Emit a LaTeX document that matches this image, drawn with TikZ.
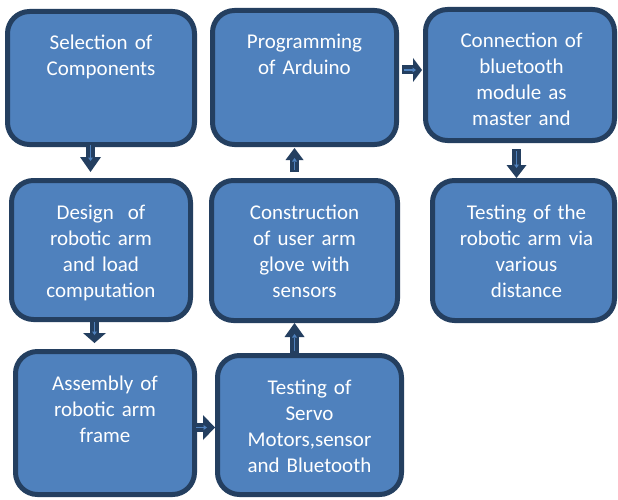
\documentclass[tikz,border=0pt]{standalone}
\usepackage{fontspec}
\setmainfont{Carlito}
\usetikzlibrary{arrows.meta,calc}
\definecolor{boxfill}{HTML}{4F81BD}
\definecolor{boxline}{HTML}{243F60}
\begin{document}
\begin{tikzpicture}[x=1pt,y=-1pt,
  box/.style={draw=boxline, fill=boxfill, line width=5pt, rounded corners=22pt},
  txt/.style={text=white, font=\fontsize{21}{26}\selectfont, text width=185pt, align=center, inner sep=0pt, anchor=base},
  blk/.style args={#1/#2}{draw=boxline, line width=9pt, -{Triangle[length=#1pt,width=#2pt,line width=0pt]}},
  inn/.style={draw=boxfill, line width=1.8pt, -{Triangle[length=3.5pt,width=5pt,line width=0pt]}}
]
\fill[white] (0,0) rectangle (618,500);
\useasboundingbox (0,0) rectangle (618,500);

\node[box, minimum width=187pt, minimum height=133pt] (b1) at (101,78) {};
\node[box, minimum width=184pt, minimum height=134pt] (b2) at (304.5,77.5) {};
\node[box, minimum width=189pt, minimum height=131pt] (b3) at (520,75) {};
\node[box, minimum width=179pt, minimum height=139pt] (b4) at (101,250) {};
\node[box, minimum width=186pt, minimum height=140pt] (b5) at (304.5,250.5) {};
\node[box, minimum width=182pt, minimum height=140pt] (b6) at (523.5,250.5) {};
\node[box, minimum width=179pt, minimum height=143pt] (b7) at (105,423) {};
\node[box, minimum width=184pt, minimum height=139pt] (b8) at (309.5,425) {};

\node[txt] (t1) at ($(b1.north)+(0,41)$) {Selection of\\Components};
\node[txt] (t2) at ($(b2.north)+(0,41)$) {Programming\\of Arduino};
\node[txt] (t3) at ($(b3.north)+(1.5,41)$) {Connection of\\bluetooth\\module as\\master and};
\node[txt] (t4) at ($(b4.north)+(0,41)$) {Design\ \ of\\robotic arm\\and load\\computation};
\node[txt] (t5) at ($(b5.north)+(0,41)$) {Construction\\of user arm\\glove with\\sensors};
\node[txt] (t6) at ($(b6.north)+(3,41)$) {Testing of the\\robotic arm via\\various\\distance};
\node[txt] (t7) at ($(b7.north)+(0,41)$) {Assembly of\\robotic arm\\frame};
\node[txt] (t8) at ($(b8.north)+(0,41)$) {Testing of\\Servo\\Motors,sensor\\and Bluetooth};

% b1 -> b4
\draw[blk=15/21, shorten >=6pt, shorten <=-4pt] ($(b1.south)+(-10.5,0)$) -- ($(b4.north)+(-10.5,0)$);
\draw[inn, shorten >=17pt, shorten <=-2pt] ($(b1.south)+(-10.5,0)$) -- ($(b4.north)+(-10.5,0)$);
% b4 -> b7
\draw[blk=10/23, shorten >=6pt, shorten <=-2pt] ($(b4.south)+(-6.5,0)$) -- ($(b7.north)+(-10.5,0)$);
\draw[inn, shorten >=14pt, shorten <=0pt] ($(b4.south)+(-6.5,0)$) -- ($(b7.north)+(-10.5,0)$);
% b7 -> b8
\draw[blk=12/25, shorten <=-3pt] ($(b7.east)+(0,4.5)$) -- ($(b8.west)+(0,2.5)$);
\draw[inn, shorten >=8pt, shorten <=-1pt] ($(b7.east)+(0,4.5)$) -- ($(b8.west)+(0,2.5)$);
% b8 -> b5
\draw[blk=14/20] ($(b8.north)+(-15,0)$) -- ($(b5.south)+(-10,0)$);
\draw[inn, shorten >=11pt, shorten <=2pt] ($(b8.north)+(-15,0)$) -- ($(b5.south)+(-10,0)$);
% b5 -> b2
\draw[blk=12/18, shorten <=6pt, shorten >=1pt] ($(b5.north)+(-10,0)$) -- ($(b2.south)+(-10,0)$);
\draw[inn, shorten <=8pt, shorten >=11pt] ($(b5.north)+(-10,0)$) -- ($(b2.south)+(-10,0)$);
% b2 -> b3
\draw[blk=9/24, shorten <=3pt, shorten >=1pt] ($(b2.east)+(0,-7.5)$) -- ($(b3.west)+(0,-5)$);
\draw[inn, shorten <=5pt, shorten >=7pt] ($(b2.east)+(0,-7.5)$) -- ($(b3.west)+(0,-5)$);
% b3 -> b6
\draw[blk=13/20, shorten <=6pt] ($(b3.south)+(-3.5,0)$) -- ($(b6.north)+(-7,0)$);
\draw[inn, shorten <=8pt, shorten >=10pt] ($(b3.south)+(-3.5,0)$) -- ($(b6.north)+(-7,0)$);
\end{tikzpicture}
\end{document}
